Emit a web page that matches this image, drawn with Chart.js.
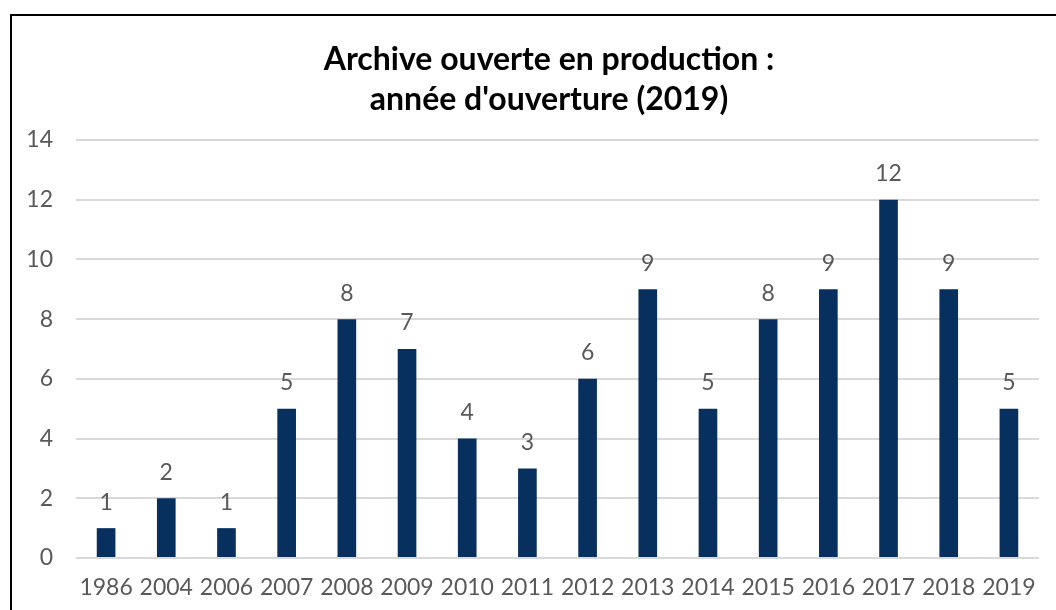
<!DOCTYPE html>
<html>
<head>
<meta charset="utf-8">
<script src="https://cdn.jsdelivr.net/npm/chart.js@4.4.1/dist/chart.umd.min.js"></script>
<style>
  html, body { margin: 0; padding: 0; background: #fff; overflow: hidden; }
  .frame {
    position: absolute; left: 10px; top: 14px;
    width: 1100px; height: 640px;
    border: 2px solid #000; background: #fff;
  }
  #years { display: block; }
</style>
</head>
<body>
<div class="frame">
  <canvas id="years" width="1100" height="594"></canvas>
</div>
<script>
//  Opening year chart

const years = ["1986", "2004", "2006", "2007", "2008", "2009", "2010", "2011",
  "2012", "2013", "2014", "2015", "2016", "2017", "2018", "2019"];
const archives = [1, 2, 1, 5, 8, 7, 4, 3, 6, 9, 5, 8, 9, 12, 9, 5];
const yTicks = [0, 2, 4, 6, 8, 10, 12, 14];

const FONT = "Lato, 'Open Sans', sans-serif";
const GREY = "#595959";

// value above each bar
const barValues = {
  id: "barValues",
  afterDatasetsDraw(chart) {
    const ctx = chart.ctx;
    const meta = chart.getDatasetMeta(0);
    ctx.save();
    ctx.font = "23px " + FONT;
    ctx.fillStyle = GREY;
    ctx.textAlign = "center";
    ctx.textBaseline = "middle";
    meta.data.forEach((bar, i) => {
      ctx.fillText(String(archives[i]), bar.x, bar.y - 26);
    });
    ctx.restore();
  },
};

const years_el = document.getElementById("years");

new Chart(years_el, {
  type: "bar",
  data: {
    labels: years,
    datasets: [
      {
        label: "Archives",
        data: archives,
        backgroundColor: "#08305f",
        categoryPercentage: 1,
        barPercentage: 0.31,
      },
    ],
  },
  options: {
    responsive: false,
    animation: false,
    layout: {
      padding: { left: 0, right: 26, top: 0, bottom: 0 },
    },
    plugins: {
      legend: { display: false },
      tooltip: { enabled: false },
      title: {
        display: true,
        text: ["Archive ouverte en production :", "année d'ouverture (2019)"],
        color: "#000",
        font: { family: FONT, size: 32, weight: "bold", lineHeight: 1.25 },
        padding: { top: 24, bottom: 20 },
      },
    },
    scales: {
      x: {
        grid: { display: false, drawTicks: false },
        border: { display: false },
        ticks: {
          color: GREY,
          padding: 16,
          maxRotation: 0,
          autoSkip: false,
          font: { family: FONT, size: 23 },
        },
        afterFit: (s) => { s.height = 52; },
      },
      y: {
        min: 0,
        max: 14,
        grid: { color: "#d9d9d9", lineWidth: 2, drawTicks: false },
        border: { display: false },
        afterBuildTicks: (s) => { s.ticks = yTicks.map((v) => ({ value: v })); },
        ticks: {
          color: GREY,
          padding: 23,
          font: { family: FONT, size: 23 },
        },
        afterFit: (s) => { s.width = 64; },
      },
      // empty right margin so the title sits centred in the frame
      spacer: {
        type: "linear",
        position: "right",
        grid: { display: false, drawTicks: false },
        border: { display: false },
        ticks: { display: false },
        afterFit: (s) => { s.width = 47; },
      },
    },
  },
  plugins: [barValues],
});
</script>
</body>
</html>
